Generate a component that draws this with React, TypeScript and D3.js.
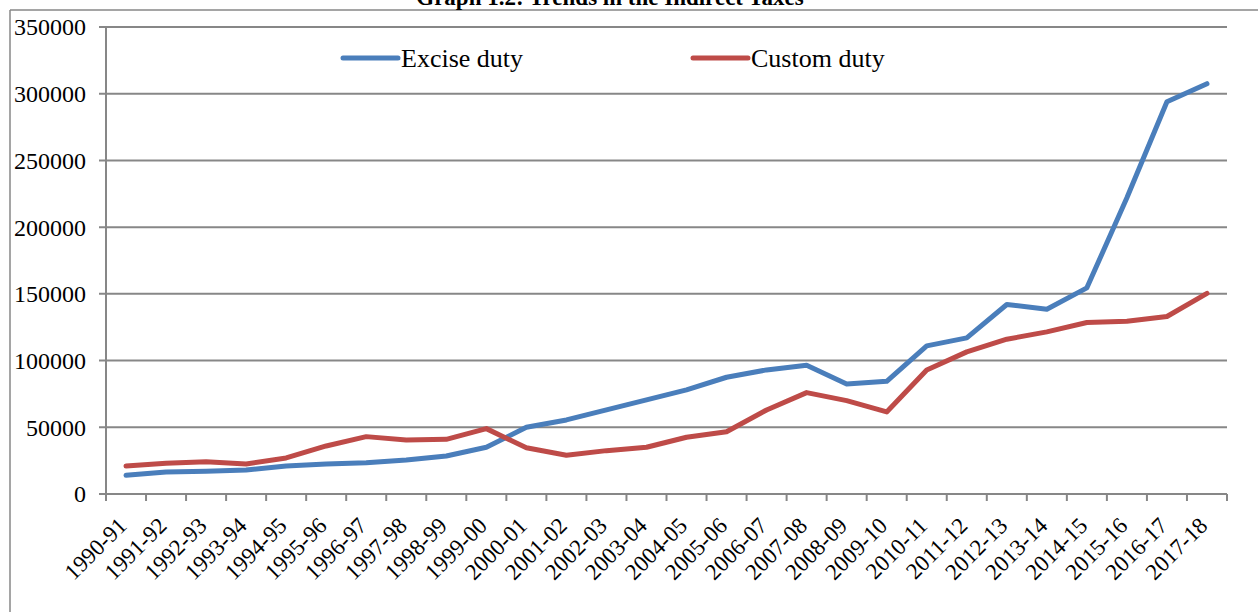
import React from 'react';
import * as d3 from 'd3';

const years = [
  '1990-91', '1991-92', '1992-93', '1993-94', '1994-95', '1995-96', '1996-97',
  '1997-98', '1998-99', '1999-00', '2000-01', '2001-02', '2002-03', '2003-04',
  '2004-05', '2005-06', '2006-07', '2007-08', '2008-09', '2009-10', '2010-11',
  '2011-12', '2012-13', '2013-14', '2014-15', '2015-16', '2016-17', '2017-18',
];

const excise = [
  14000, 16500, 17000, 18000, 21000, 22500, 23500, 25500, 28500, 35000,
  50000, 55500, 63000, 70500, 78000, 87500, 93000, 96500, 82500, 84500,
  111000, 117000, 142000, 138500, 154500, 222000, 294000, 307500,
];

const custom = [
  21000, 23000, 24200, 22500, 27000, 36000, 43000, 40500, 41000, 49000,
  34700, 29000, 32500, 35000, 42500, 46700, 63000, 76000, 70000, 61500,
  93000, 106500, 116000, 121500, 128500, 129500, 133000, 150300,
];

const yTicks = [0, 50000, 100000, 150000, 200000, 250000, 300000, 350000];

const width = 1258;
const height = 612;
const margin = { top: 27, right: 31, bottom: 118, left: 106 };
const grey = '#878787';
const blue = '#4a7ebb';
const red = '#be4b48';
const font = "'Liberation Serif', 'Times New Roman', Times, serif";

const App = () => {
  const innerW = width - margin.left - margin.right;
  const innerH = height - margin.top - margin.bottom;

  const x = d3.scaleBand().domain(years).range([0, innerW]).padding(0);
  const y = d3.scaleLinear().domain([0, 350000]).range([innerH, 0]);

  const line = d3
    .line<number>()
    .x((d, i) => x(years[i])! + x.bandwidth() / 2)
    .y(d => y(d));

  const series = [
    { name: 'Excise duty', values: excise, color: blue, lx: 343 - margin.left },
    { name: 'Custom duty', values: custom, color: red, lx: 693 - margin.left },
  ];

  return (
    <svg
      width={width}
      height={height}
      style={{ position: 'absolute', left: 0, top: 0, display: 'block', background: '#fff', fontFamily: font }}
    >
      {/* outer frame */}
      <line x1={10} y1={10} x2={width} y2={10} stroke={grey} strokeWidth={1.5} />
      <line x1={10} y1={10} x2={10} y2={height} stroke={grey} strokeWidth={1.5} />
      <text x={610} y={5} textAnchor="middle" fontWeight="bold" fontSize={23} fill="#000" style={{ fontFamily: font }}>
        Graph 1.2: Trends in the Indirect Taxes
      </text>

      <g transform={`translate(${margin.left},${margin.top})`}>
        {yTicks.map(t => (
          <g key={t} transform={`translate(0,${y(t)})`}>
            <line x1={-7} x2={innerW} stroke={grey} strokeWidth={2} />
            <text x={-20} dy="0.35em" textAnchor="end" fontSize={24} fill="#000" style={{ fontFamily: font }}>
              {t}
            </text>
          </g>
        ))}
        <line x1={0} x2={0} y1={0} y2={innerH} stroke={grey} strokeWidth={2} />

        {d3.range(years.length + 1).map(k => (
          <line
            key={k}
            x1={k * x.step()}
            x2={k * x.step()}
            y1={innerH}
            y2={innerH + 7}
            stroke={grey}
            strokeWidth={2}
          />
        ))}

        {years.map(yr => {
          const cx = x(yr)! + x.bandwidth() / 2;
          return (
            <text
              key={yr}
              transform={`translate(${cx + 2},${innerH + 33}) rotate(-45)`}
              textAnchor="end"
              fontSize={23}
              fill="#000"
              style={{ fontFamily: font }}
            >
              {yr}
            </text>
          );
        })}

        {series.map(s => (
          <path
            key={s.name}
            d={line(s.values)!}
            fill="none"
            stroke={s.color}
            strokeWidth={5}
            strokeLinejoin="round"
            strokeLinecap="round"
          />
        ))}

        {/* legend */}
        {series.map(s => (
          <g key={s.name} transform={`translate(${s.lx},${58 - margin.top})`}>
            <line x1={0} x2={55} stroke={s.color} strokeWidth={5} strokeLinecap="round" />
            <text x={58} dy="0.33em" fontSize={26} fill="#000" style={{ fontFamily: font }}>
              {s.name}
            </text>
          </g>
        ))}
      </g>
    </svg>
  );
};

export default App;
